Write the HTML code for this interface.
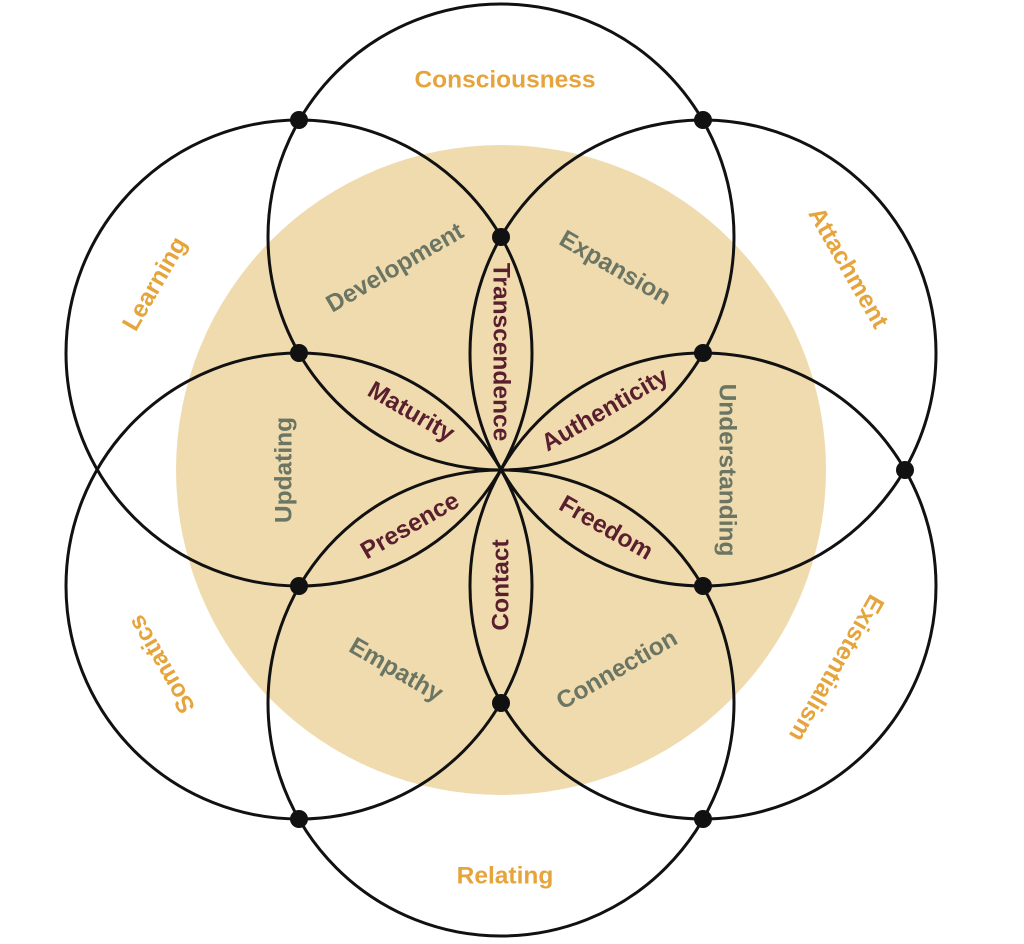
<!DOCTYPE html>
<html><head><meta charset="utf-8"><style>
html,body{margin:0;padding:0;background:#fff;}
svg{display:block;}
text{font-family:"Liberation Sans",sans-serif;font-weight:bold;text-anchor:middle;dominant-baseline:central;}
.o{fill:#e6a43c;font-size:24.5px;}
.g{fill:#6b7563;font-size:24.5px;}
.m{fill:#5a1f2e;font-size:24.5px;}
</style></head><body>
<svg width="1024" height="944" viewBox="0 0 1024 944" xmlns="http://www.w3.org/2000/svg">
<circle cx="501" cy="470" r="325" fill="#f0dbae"/>
<g fill="none" stroke="#111" stroke-width="3">
<circle cx="501" cy="237" r="233"/>
<circle cx="703" cy="353" r="233"/>
<circle cx="703" cy="586" r="233"/>
<circle cx="501" cy="703" r="233"/>
<circle cx="299" cy="586" r="233"/>
<circle cx="299" cy="353" r="233"/>
</g>
<g fill="#111">
<circle cx="501" cy="237" r="9"/>
<circle cx="703" cy="353" r="9"/>
<circle cx="703" cy="586" r="9"/>
<circle cx="501" cy="703" r="9"/>
<circle cx="299" cy="586" r="9"/>
<circle cx="299" cy="353" r="9"/>
<circle cx="299" cy="120" r="9"/>
<circle cx="703" cy="120" r="9"/>
<circle cx="905" cy="470" r="9"/>
<circle cx="703" cy="819" r="9"/>
<circle cx="299" cy="819" r="9"/>
</g>
<text class="o" x="505" y="80">Consciousness</text>
<text class="o" transform="translate(848,268) rotate(60)">Attachment</text>
<text class="o" transform="translate(836,668) rotate(120)">Existentialism</text>
<text class="o" x="505" y="876">Relating</text>
<text class="o" transform="translate(162,664) rotate(-120)">Somatics</text>
<text class="o" transform="translate(155,284) rotate(-60)">Learning</text>
<text class="g" transform="translate(395,268) rotate(-30)">Development</text>
<text class="g" transform="translate(615,268) rotate(30)">Expansion</text>
<text class="g" transform="translate(727,470) rotate(90)">Understanding</text>
<text class="g" transform="translate(617,670) rotate(-30)">Connection</text>
<text class="g" transform="translate(396,670) rotate(30)">Empathy</text>
<text class="g" transform="translate(284,470) rotate(-90)">Updating</text>
<text class="m" transform="translate(501,352) rotate(90)">Transcendence</text>
<text class="m" transform="translate(605,410) rotate(-30)">Authenticity</text>
<text class="m" transform="translate(606,528) rotate(30)">Freedom</text>
<text class="m" transform="translate(501,585) rotate(-90)">Contact</text>
<text class="m" transform="translate(410,526) rotate(-30)">Presence</text>
<text class="m" transform="translate(411,412) rotate(30)">Maturity</text>
</svg>
</body></html>
